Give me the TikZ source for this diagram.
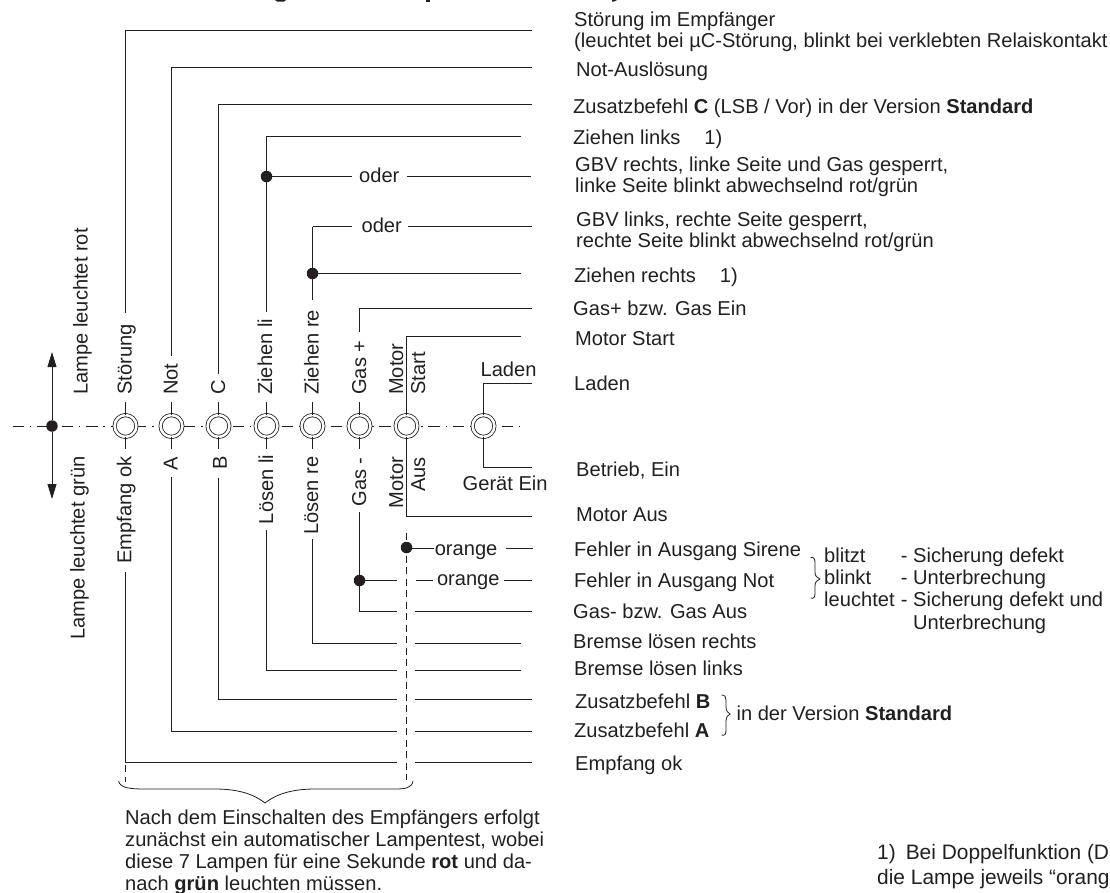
\documentclass[tikz,border=0pt]{standalone}
\usepackage{fontspec}
\setmainfont{Liberation Sans}
\usetikzlibrary{arrows.meta,calc}
\definecolor{ink}{HTML}{231F20}
\tikzset{
  wire/.style={draw=ink,line width=1.2pt},
  lamp/.style={circle,draw=ink,line width=0.8pt,double=white,double distance=2.5pt,minimum size=21.8pt,inner sep=0pt,fill=white},
  lab/.style={anchor=base west,inner sep=0pt,text=ink,font=\fontsize{20.1}{20.1}\selectfont},
  notelab/.style={lab,font=\fontsize{20.9}{20.9}\selectfont},
  rotlab/.style={lab,rotate=90},
  junction/.style={circle,fill=ink,inner sep=0pt,minimum size=11.5pt},
  dashedwire/.style={draw=ink,line width=1pt,dash pattern=on 7pt off 4.5pt},
  centre/.style={draw=ink,line width=0.8pt},
  bracepath/.style={draw=ink,line width=0.8pt},
  arrowline/.style={draw=ink,line width=0.9pt,-{Triangle[length=15pt,width=9pt]}},
}
\newcommand{\Rl}[4]{\node[rotlab] (#1) at (#2,#3) {#4};}
\newcommand{\Tl}[4]{\node[lab] (#1) at (#2,#3) {#4};}
\begin{document}
\begin{tikzpicture}[x=1pt,y=-1pt]
\clip (0,0) rectangle (1110,892);
% title remnants
\fill[ink] (275,0) -- (286,0) -- (284,1.5) -- (277,1.5) -- cycle;
\fill[ink] (426,0) rectangle (430,1.5);
\fill[ink] (612,0) -- (617,0) -- (614,1.5) -- (612,1.5) -- cycle;
% centre line
\coordinate (cl0) at (12.7,426);
\coordinate (cl1) at (519,426);
\draw[centre,dash pattern=on 11.5pt off 5.7pt on 1.5pt off 5.75pt] (cl0) -- (cl1);
% lamps
\foreach \n/\x in {a/125.5,b/171.5,c/218.5,d/266.5,e/312.5,f/359.5,g/406.5,h/483.5}{
  \coordinate (\n x) at (\x,426);
}
% direction arrows
\coordinate (arT) at (52,352);
\coordinate (arB) at (52,499);
\node[junction] (j0) at (52,426) {};
\draw[arrowline] (j0) -- (arT);
\draw[arrowline] (j0) -- (arB);
% top wires
\coordinate (aT) at (125.5,313);   \coordinate (aC) at (125.5,30.5);  \coordinate (aE) at (532,30.5);
\coordinate (bT) at (171.5,356); \coordinate (bC) at (171.5,67.5);\coordinate (bE) at (532,67.5);
\coordinate (cT) at (218.5,374); \coordinate (cC) at (218.5,104.5); \coordinate (cE) at (532,104.5);
\coordinate (dT) at (266.5,312);   \coordinate (dC) at (266.5,136.5);   \coordinate (dE) at (521,136.5);
\coordinate (eT) at (312.5,300); \coordinate (eC) at (312.5,226.5);
\coordinate (fT) at (359.5,332); \coordinate (fC) at (359.5,308.5); \coordinate (fE) at (532,308.5);
\coordinate (gC) at (406.5,336.5);\coordinate (gE) at (521,336.5);
\coordinate (hC) at (483.5,383.5);\coordinate (hE) at (532,383.5);
\draw[wire] (aT) -- (aC) -- (aE);
\draw[wire] (bT) -- (bC) -- (bE);
\draw[wire] (cT) -- (cC) -- (cE);
\draw[wire] (dT) -- (dC) -- (dE);
\draw[wire] (eT) -- (eC);
\draw[wire] (fT) -- (fC) -- (fE);
% oder branches
\node[junction] (j1) at (266.5,176.5) {};
\node[junction] (j2) at (312.5,273.5) {};
\Tl{oder1}{359}{182.7}{oder}
\Tl{oder2}{361.4}{232.7}{oder}
\coordinate (o1a) at (352,176.5);\coordinate (o1b) at (407,176.5);\coordinate (o1e) at (531,176.5);
\coordinate (o2a) at (352,226.5);\coordinate (o2b) at (408,226.5);\coordinate (o2e) at (532,226.5);
\coordinate (j2e) at (521,273.5);
\draw[wire] (j1) -- (o1a) (o1b) -- (o1e);
\draw[wire] (eC) -- (o2a) (o2b) -- (o2e);
\draw[wire] (j2) -- (j2e);
% bottom wires
\coordinate (aB) at (125.5,571.7); \coordinate (aD) at (125.5,762.5);
\coordinate (bB) at (171.5,477); \coordinate (bD) at (171.5,731.5);
\coordinate (cB) at (218.5,478); \coordinate (cD) at (218.5,699.5);
\coordinate (dB) at (266.5,530);   \coordinate (dD) at (266.5,670.5);
\coordinate (eB) at (312.5,539); \coordinate (eD) at (312.5,643.5);
\coordinate (fB) at (359.5,511.7);\coordinate (fD) at (359.5,611.5);
\coordinate (gD) at (406.5,516.5);\coordinate (gF) at (532,516.5);
\coordinate (hD) at (483.5,467.5);\coordinate (hF) at (532,467.5);
\foreach \n/\yy/\e in {a/762.5/532,b/731.5/532,c/699.5/532,d/670.5/521,e/643.5/521,f/611.5/532}{
  \coordinate (\n G) at (397,\yy);
  \coordinate (\n H) at (415,\yy);
  \coordinate (\n I) at (\e,\yy);
  \draw[wire] (\n B) -- (\n D) -- (\n G) (\n H) -- (\n I);
}
\node[junction] (j3) at (359.5,580.5) {};
\node[junction] (j4) at (406.5,547.5) {};
\Tl{or1}{434.6}{555}{orange}
\Tl{or2}{436.8}{585}{orange}
\coordinate (o3a) at (397,580.5);\coordinate (o3b) at (416,580.5);\coordinate (o3c) at (433,580.5);\coordinate (o3d) at (504,580.5);\coordinate (o3e) at (532,580.5);
\coordinate (o4a) at (434,548.5);\coordinate (o4b) at (506,548.5);\coordinate (o4e) at (533,548.5);
\draw[wire] (j3) -- (o3a) (o3b) -- (o3c) (o3d) -- (o3e);
\draw[wire] (j4.east |- o4a) -- (o4a) (o4b) -- (o4e);
% dashed
\coordinate (dsT) at (406.5,532.7);\coordinate (dsB) at (406.5,780);
\coordinate (da1) at (125.5,765);\coordinate (da2) at (125.5,782);
\draw[dashedwire] (dsT) -- (dsB);
\draw[dashedwire] (da1) -- (da2);
% lamps with stubs
\foreach \n in {a,b,c,d,e,f,g,h}{
  \node[lamp] (\n L) at (\n x) {};
}
\foreach \n in {a,b,c,d,e,f}{
  \coordinate (\n s1) at ($(\n x)+(0,-24)$);
  \coordinate (\n s2) at ($(\n x)+(0,23)$);
  \draw[wire] (\n s1) -- (\n L) (\n L) -- (\n s2);
}
\draw[wire] (gL) -- (gC) -- (gE);
\draw[wire] (gL) -- (gD) -- (gF);
\draw[wire] (hL) -- (hC) -- (hE);
\draw[wire] (hL) -- (hD) -- (hF);
% rotated labels above
\Rl{lr}{87.5}{395}{Lampe leuchtet rot}
\Rl{l1}{131.5}{395}{Störung}
\Rl{l2}{177.5}{395}{Not}
\Rl{l3}{225}{395}{C}
\Rl{l4}{272}{395}{Ziehen li}
\Rl{l5}{318.6}{395}{Ziehen re}
\Rl{l6}{366}{395}{Gas +}
\Rl{l7}{403}{395}{Motor}
\Rl{l8}{425}{395}{Start}
\Tl{l9}{480.4}{376.7}{Laden}
% rotated labels below
\Rl{lg}{84.6}{640}{Lampe leuchtet grün}
\Rl{u1}{131.4}{564}{Empfang ok}
\Rl{u2}{177.5}{470.7}{A}
\Rl{u3}{226.8}{470}{B}
\Rl{u4}{273}{524.3}{Lösen li}
\Rl{u5}{318}{535}{Lösen re}
\Rl{u6}{366}{506.7}{Gas -}
\Rl{u7}{403}{508.3}{Motor}
\Rl{u8}{425}{492}{Aus}
\Tl{u9}{462.5}{490}{Gerät Ein}
% right column
\Tl{t1}{574}{26}{Störung im Empfänger}
\Tl{t2}{574}{47.7}{(leuchtet bei µC-Störung, blinkt bei verklebten Relaiskontakt}
\Tl{t3}{576}{76}{Not-Auslösung}
\Tl{t4}{573}{113}{Zusatzbefehl \textbf{C} (LSB / Vor) in der Version \textbf{Standard}}
\Tl{t5}{573}{144}{Ziehen links\hspace{24pt}1)}
\Tl{t6}{575}{171}{GBV rechts, linke Seite und Gas gesperrt,}
\Tl{t7}{575}{192.7}{linke Seite blinkt abwechselnd rot/grün}
\Tl{t8}{576}{226}{GBV links, rechte Seite gesperrt,}
\Tl{t9}{576}{247.7}{rechte Seite blinkt abwechselnd rot/grün}
\Tl{t10}{574}{282}{Ziehen rechts\hspace{24pt}1)}
\Tl{t11}{573}{315}{Gas+ bzw. Gas Ein}
\Tl{t12}{575}{345}{Motor Start}
\Tl{t13}{574}{390}{Laden}
\Tl{t14}{576}{476.7}{Betrieb, Ein}
\Tl{t15}{576}{521.7}{Motor Aus}
\Tl{t16}{574}{556}{Fehler in Ausgang Sirene}
\Tl{t17}{574}{587.7}{Fehler in Ausgang Not}
\Tl{t18}{573}{618.3}{Gas- bzw. Gas Aus}
\Tl{t19}{573}{648.3}{Bremse lösen rechts}
\Tl{t20}{574}{675}{Bremse lösen links}
\Tl{t21}{575}{708.3}{Zusatzbefehl \textbf{B}}
\Tl{t22}{574}{737.7}{Zusatzbefehl \textbf{A}}
\Tl{t23}{575}{770.7}{Empfang ok}
% fault table
\Tl{f1}{824}{562.3}{blitzt}
\Tl{f2}{824}{584.3}{blinkt}
\Tl{f3}{824}{606.7}{leuchtet}
\Tl{g1}{900.7}{562.3}{- Sicherung defekt}
\Tl{g2}{900.7}{584.3}{- Unterbrechung}
\Tl{g3}{900.7}{606.7}{- Sicherung defekt und}
\Tl{g4}{913}{629.3}{Unterbrechung}
\Tl{s1}{736.4}{720}{in der Version \textbf{Standard}}
% small braces
\draw[bracepath] (810.7,557.5) .. controls (814,557) and (815,559) .. (815,563) -- (815,572) .. controls (815,576) and (817,578) .. (820,579) .. controls (817,580) and (815,582) .. (815,586) -- (815,593) .. controls (815,597) and (814,599) .. (810.7,598);
\draw[bracepath] (721.5,695) .. controls (725,695) and (726,697) .. (726,700) -- (726,707) .. controls (726,711) and (728,713) .. (730,714) .. controls (728,715) and (726,717) .. (726,721) -- (726,730) .. controls (726,734) and (725,736) .. (721.5,735);
% big brace
\draw[bracepath] (118.6,781) .. controls (120,788) and (130,789) .. (145,789) -- (215,789) .. controls (240,789) and (255,795) .. (265,803) .. controls (275,795) and (290,789) .. (315,789) -- (395,789) .. controls (405,789) and (412,788) .. (413,781);
% notes
\Tl{n1}{125}{824}{Nach dem Einschalten des Empfängers erfolgt}
\Tl{n2}{125}{846.7}{zunächst ein automatischer Lampentest, wobei}
\Tl{n3}{125}{868.3}{diese 7 Lampen für eine Sekunde \textbf{rot} und da-}
\Tl{n4}{125}{890.7}{nach \textbf{grün} leuchten müssen.}
\node[notelab] (n5) at (877,859.3) {1)\hspace{10pt}Bei Doppelfunktion (D};
\node[notelab] (n6) at (877,884) {die Lampe jeweils “orang};
\end{tikzpicture}
\end{document}
